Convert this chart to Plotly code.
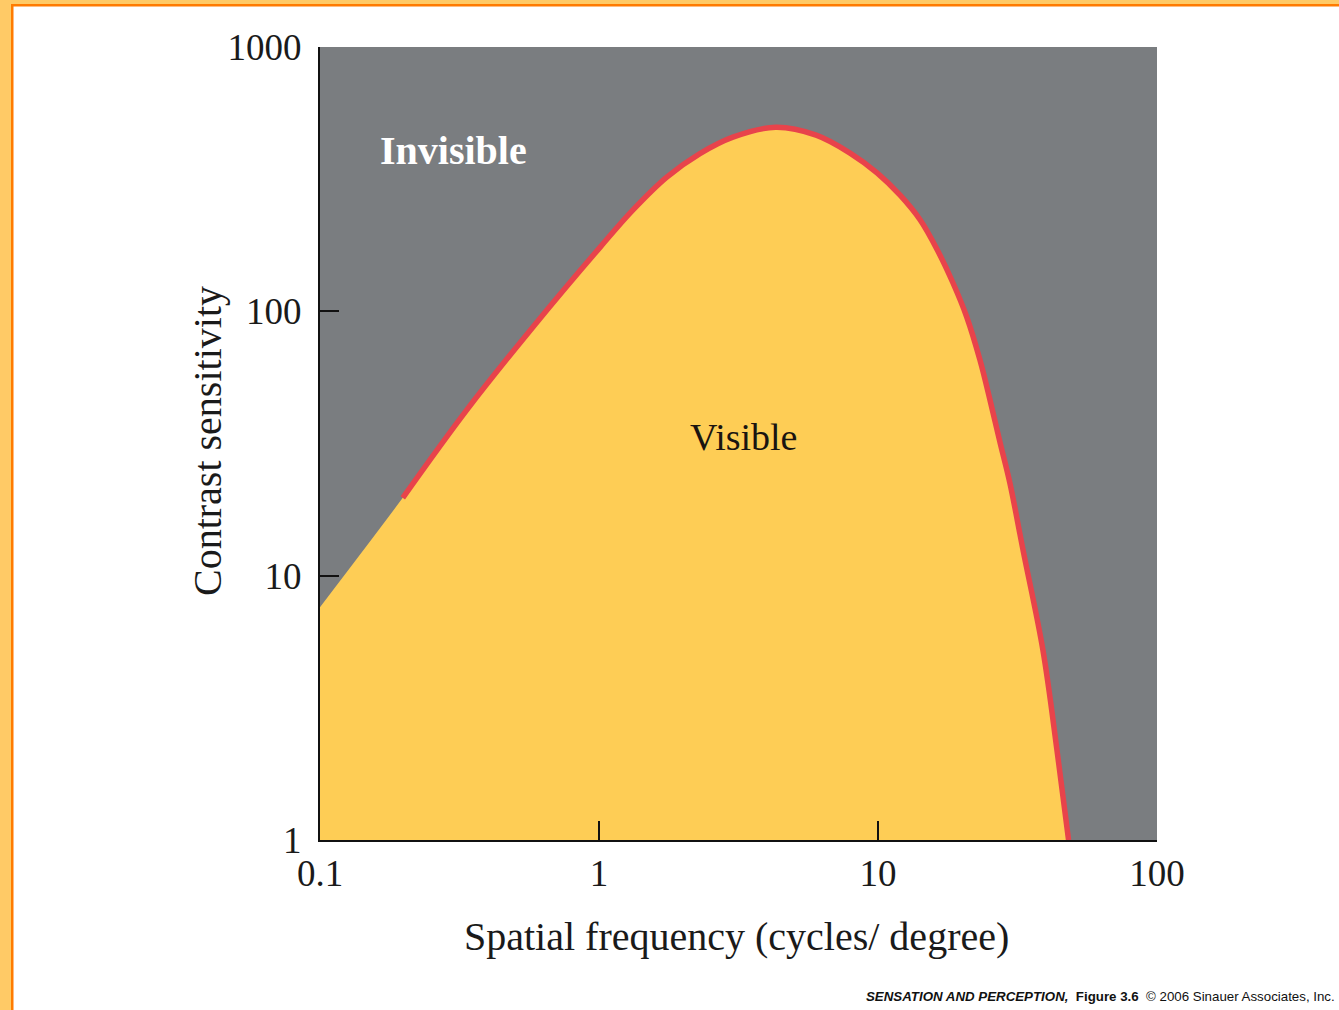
import plotly.graph_objects as go

# ---- data ----
freq = [0.1, 0.198, 0.336, 0.58, 1.01, 1.324, 1.75, 2.30, 3.02, 4.3, 6.0, 7.94, 9.92,
        12.0, 14.15, 16.3, 18.57, 20.8, 23.2, 25.2, 27.4, 29.7, 33.1, 39.0, 43.8, 48.2]
sens = [7.6, 19.7, 42.4, 87.3, 175, 242, 322, 395, 456, 497, 464, 397, 334,
        275, 222, 171, 128, 95.2, 65.4, 46.2, 31.8, 22.4, 12.5, 5.23, 2.19, 1.0]
x_ticks = [0.1, 1, 10, 100]
x_tick_labels = ["0.1", "1", "10", "100"]
y_ticks = [1, 10, 100, 1000]
y_tick_labels = ["1", "10", "100", "1000"]

W, H = 1339, 1010
ML, MR, MT, MB = 320, 182, 47, 170
PW, PH = W - ML - MR, H - MT - MB


def px(xp):
    return (xp - ML) / PW


def py(yp):
    return (H - MB - yp) / PH


GRAY = "#7a7d80"
YELLOW = "#fecd55"
RED = "#e8434b"
SERIF = "Liberation Serif, Times New Roman, serif"
INK = "#1a1a1a"

fig = go.Figure()
fig.add_trace(go.Scatter(
    x=freq, y=sens, mode="lines", line=dict(width=0, shape="spline", smoothing=1.0),
    fill="tozeroy", fillcolor=YELLOW, hoverinfo="skip", showlegend=False))
fig.add_trace(go.Scatter(
    x=freq[1:], y=sens[1:], mode="lines",
    line=dict(width=5.5, color=RED, shape="spline", smoothing=1.0),
    showlegend=False))

fig.update_xaxes(
    type="log", range=[-1, 2], tickvals=x_ticks, ticktext=x_tick_labels,
    ticks="inside", ticklen=19, tickwidth=2, tickcolor="#111",
    showline=True, linecolor="#111", linewidth=2, showgrid=False, zeroline=False,
    tickfont=dict(family=SERIF, size=37, color=INK), ticklabelstandoff=0)
fig.update_yaxes(
    type="log", range=[0, 3], tickvals=y_ticks, ticktext=y_tick_labels,
    ticks="inside", ticklen=19, tickwidth=2, tickcolor="#111",
    showline=True, linecolor="#111", linewidth=2, showgrid=False, zeroline=False,
    tickfont=dict(family=SERIF, size=37, color=INK), ticklabelstandoff=9)

# axis titles
fig.add_annotation(x=px(736), y=py(936), xref="paper", yref="paper",
                   text="Spatial frequency (cycles/ degree)", showarrow=False,
                   xanchor="center", yanchor="middle",
                   font=dict(family=SERIF, size=40, color=INK))
fig.add_annotation(x=px(207), y=py(441), xref="paper", yref="paper",
                   text="Contrast sensitivity", showarrow=False, textangle=-90,
                   xanchor="center", yanchor="middle",
                   font=dict(family=SERIF, size=40, color=INK))

fig.add_annotation(x=-0.523, y=2.607, xref="x", yref="y", text="<b>Invisible</b>",
                   showarrow=False, font=dict(family=SERIF, size=40, color="white"))
fig.add_annotation(x=0.518, y=1.525, xref="x", yref="y", text="Visible",
                   showarrow=False, font=dict(family=SERIF, size=38, color="#1a1410"))
fig.add_annotation(x=px(1337), y=py(996), xref="paper", yref="paper",
                   xanchor="right", yanchor="middle", showarrow=False,
                   text="<b><i>SENSATION AND PERCEPTION,</i></b>  <b>Figure 3.6</b>  © 2006 Sinauer Associates, Inc.",
                   font=dict(family="Liberation Sans, Arial, sans-serif", size=13.3, color="#111"))

LIGHT_OR = "#ffca66"
DARK_OR = "#ff7b00"
shapes = [
    dict(type="rect", xref="paper", yref="paper", x0=px(0), x1=px(11), y0=py(H), y1=py(0),
         fillcolor=LIGHT_OR, line=dict(width=0), layer="above"),
    dict(type="rect", xref="paper", yref="paper", x0=px(0), x1=px(W), y0=py(4), y1=py(0),
         fillcolor=LIGHT_OR, line=dict(width=0), layer="above"),
    dict(type="rect", xref="paper", yref="paper", x0=px(11), x1=px(13.5), y0=py(H), y1=py(4),
         fillcolor=DARK_OR, line=dict(width=0), layer="above"),
    dict(type="rect", xref="paper", yref="paper", x0=px(11), x1=px(W), y0=py(6.5), y1=py(4),
         fillcolor=DARK_OR, line=dict(width=0), layer="above"),
]

fig.update_layout(
    width=W, height=H, margin=dict(l=ML, r=MR, t=MT, b=MB),
    plot_bgcolor=GRAY, paper_bgcolor="white", shapes=shapes, showlegend=False)

fig.write_html("out.html", config={"displayModeBar": False},
               post_script="document.body.style.margin='0';document.body.style.overflow='hidden';")
